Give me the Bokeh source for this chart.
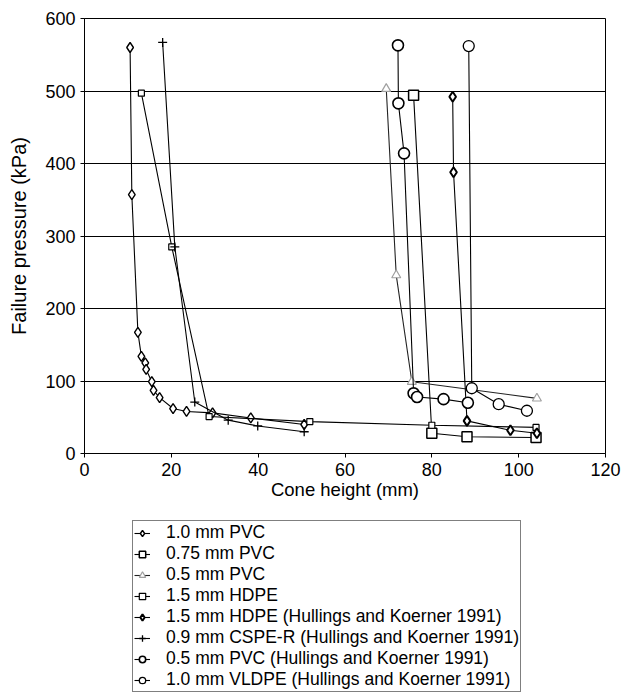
from bokeh.plotting import figure
from bokeh.layouts import column
from bokeh.models import Legend, LegendItem, Range1d, FixedTicker
from bokeh.embed import file_html
from bokeh.resources import INLINE

# ---------------- data ----------------
x_ticks = [0, 20, 40, 60, 80, 100, 120]
y_ticks = [0, 100, 200, 300, 400, 500, 600]

pvc10_x = [10.5, 10.9, 12.3, 13.1, 14.0, 14.2, 15.5, 15.9, 17.3, 20.4, 23.5, 29.5, 38.3, 50.6]
pvc10_y = [560, 357, 167, 134, 125, 116, 99, 87, 77, 62, 58, 56, 49, 40]

pvc075_x = [75.8, 80.0, 88.1, 104.0]
pvc075_y = [494, 28, 23, 22]

pvc05_x = [69.5, 71.8, 75.4, 104.2]
pvc05_y = [503, 246, 99, 76]

hdpe15_x = [13.1, 20.1, 28.7, 51.9, 80.0, 104.0]
hdpe15_y = [497, 285, 51, 44, 39, 36]

hdpe_hk_x = [84.8, 85.0, 88.1, 98.1, 104.2]
hdpe_hk_y = [492, 388, 45, 32, 28]

cspe_hk_x = [18.0, 20.8, 25.4, 33.1, 39.9, 50.6]
cspe_hk_y = [567, 285, 71, 46, 38, 30]

pvc05_hk_x = [72.2, 72.3, 73.6, 75.8, 76.6, 82.7, 88.3]
pvc05_hk_y = [563, 483, 414, 83, 78, 75, 70]

vldpe_hk_x = [88.5, 89.2, 95.4, 101.9]
vldpe_hk_y = [562, 90, 68, 59]

labels = [
    "1.0 mm PVC",
    "0.75 mm PVC",
    "0.5 mm PVC",
    "1.5 mm HDPE",
    "1.5 mm HDPE (Hullings and Koerner 1991)",
    "0.9 mm CSPE-R (Hullings and Koerner 1991)",
    "0.5 mm PVC (Hullings and Koerner 1991)",
    "1.0 mm VLDPE (Hullings and Koerner 1991)",
]

FONT = "Liberation Sans"

# ---------------- main chart ----------------
p = figure(width=624, height=510, output_backend="svg", toolbar_location=None,
           x_range=Range1d(0, 120), y_range=Range1d(0, 600),
           min_border_left=84, min_border_right=19, min_border_top=18,
           min_border_bottom=57, background_fill_color="white",
           border_fill_color="white")

p.outline_line_color = "black"
p.outline_line_width = 1
p.xgrid.visible = False
p.ygrid.grid_line_color = "black"
p.ygrid.grid_line_width = 1

p.xaxis.ticker = FixedTicker(ticks=x_ticks)
p.yaxis.ticker = FixedTicker(ticks=y_ticks)
for ax in (p.xaxis[0], p.yaxis[0]):
    ax.axis_line_color = "black"
    ax.major_tick_line_color = "black"
    ax.major_tick_out = 4
    ax.major_tick_in = 0
    ax.minor_tick_line_color = None
    ax.major_label_text_font = FONT
    ax.major_label_text_font_size = "18px"
    ax.major_label_text_color = "black"
    ax.axis_label_text_font = FONT
    ax.axis_label_text_font_style = "normal"
    ax.axis_label_text_color = "black"

p.xaxis.axis_label = "Cone height (mm)"
p.xaxis.axis_label_text_font_size = "18.5px"
p.xaxis.major_label_standoff = 5
p.xaxis.axis_label_standoff = 0
p.yaxis.axis_label = "Failure pressure (kPa)"
p.yaxis.axis_label_text_font_size = "20px"
p.yaxis.major_label_standoff = 5
p.yaxis.axis_label_standoff = 12

LW = 1.1

styles = [
    dict(size=10, line_width=1.4, marker="diamond"),
    dict(size=10, line_width=1.5, marker="square"),
    dict(size=9, line_width=1.2, marker="triangle", color="#a0a0a0", lc="#222222"),
    dict(size=6, line_width=1.2, marker="square"),
    dict(size=10, line_width=2.0, marker="diamond"),
    dict(size=9, line_width=1.3, marker="cross"),
    dict(size=11, line_width=1.6, marker="circle"),
    dict(size=11, line_width=1.3, marker="circle"),
]
series_xy = [
    (pvc10_x, pvc10_y), (pvc075_x, pvc075_y), (pvc05_x, pvc05_y),
    (hdpe15_x, hdpe15_y), (hdpe_hk_x, hdpe_hk_y), (cspe_hk_x, cspe_hk_y),
    (pvc05_hk_x, pvc05_hk_y), (vldpe_hk_x, vldpe_hk_y),
]

def draw(fig, xs, ys, st):
    st = dict(st)
    color = st.pop("color", "black")
    lc = st.pop("lc", "black")
    ln = fig.line(xs, ys, line_color=lc, line_width=LW)
    sc = fig.scatter(xs, ys, line_color=color, fill_color="white", **st)
    return [ln, sc]

for (xs, ys), st in zip(series_xy, styles):
    draw(p, xs, ys, st)

# ---------------- legend panel (below the chart) ----------------
# its ranges keep the series out of view: only the legend box is visible here
q = figure(width=624, height=184, output_backend="svg", toolbar_location=None,
           x_range=Range1d(-2, -1), y_range=Range1d(-2, -1),
           x_axis_location=None, y_axis_location=None,
           min_border_left=0, min_border_right=0, min_border_top=0,
           min_border_bottom=0, background_fill_color="white",
           border_fill_color="white")
q.outline_line_color = None
q.grid.visible = False

legend_renderers = [draw(q, xs, ys, st) for (xs, ys), st in zip(series_xy, styles)]
items = [LegendItem(label=lab, renderers=r) for lab, r in zip(labels, legend_renderers)]

legend = Legend(items=items, location=(48, 2), orientation="vertical")
legend.label_text_font = FONT
legend.label_text_font_size = "17.5px"
legend.label_text_color = "black"
legend.label_height = 18
legend.glyph_height = 18
legend.glyph_width = 16
legend.label_standoff = 16
legend.spacing = 0
legend.padding = 1
legend.margin = 0
legend.border_line_color = "black"
legend.border_line_width = 1
legend.background_fill_color = "white"
legend.background_fill_alpha = 1.0
q.add_layout(legend, "center")

open("out.html", "w").write(file_html(column(p, q, spacing=0), INLINE))
